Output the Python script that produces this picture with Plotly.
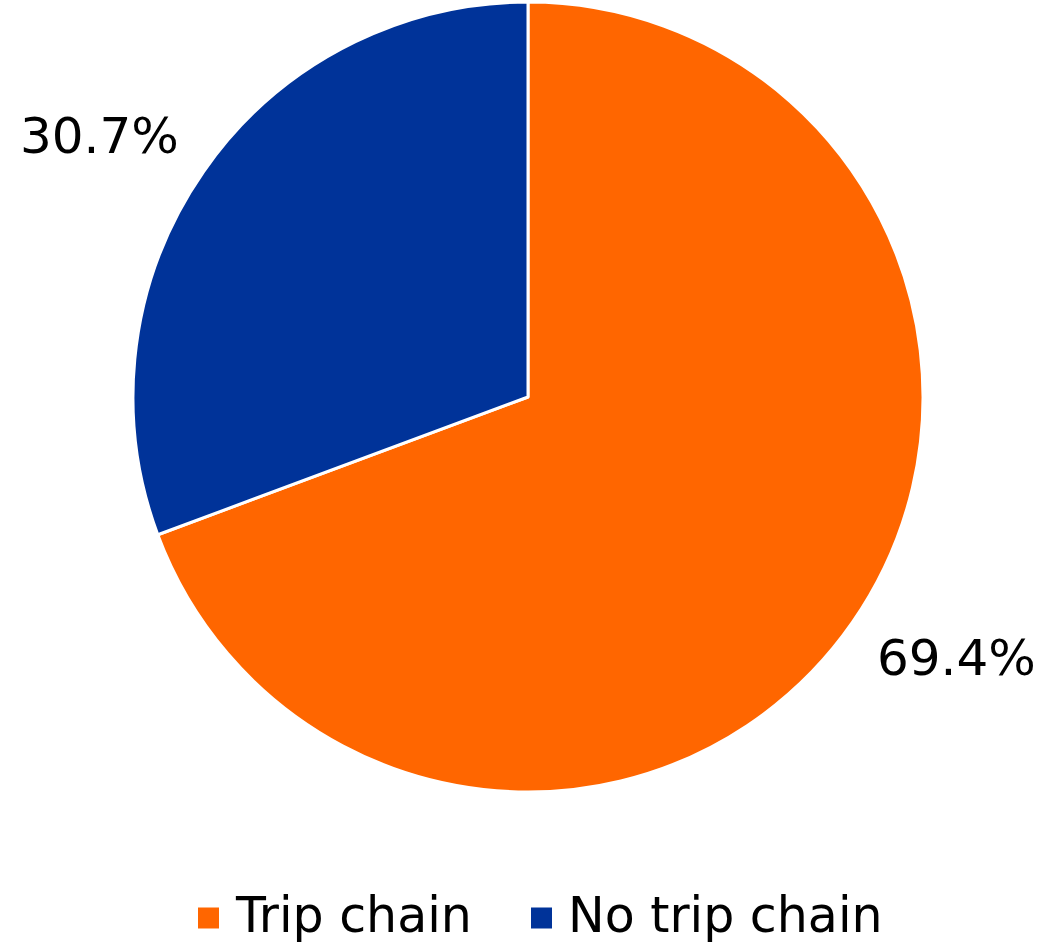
import math
import plotly.graph_objects as go

# Share of trips
categories = ["Trip chain", "No trip chain"]
shares = [69.4, 30.7]
colors = ["#FF6600", "#003399"]

W, H = 1045, 944
M_L, M_R, M_T, M_B = 11, 0, 2, 152
area_w = W - M_L - M_R
area_h = H - M_T - M_B


def to_paper(px, py):
    return (px - M_L) / area_w, 1 - (py - M_T) / area_h


fig = go.Figure(
    go.Pie(
        labels=categories,
        values=shares,
        sort=False,
        direction="clockwise",
        rotation=0,
        marker=dict(colors=colors, line=dict(color="white", width=3)),
        textinfo="none",
        hoverinfo="label+value",
        showlegend=False,
        domain=dict(x=[0, 1], y=[0, 1]),
    )
)

# Percentage labels placed outside each slice near its mid-angle
cx_px = M_L + area_w / 2
cy_px = M_T + area_h / 2
radius = 392
total = sum(shares)
start = 0.0
annotations = []
for name, v in zip(categories, shares):
    mid = start + v / total * 180.0 - 3.5
    start += v / total * 360.0
    ang = math.radians(mid)
    dist = radius * 1.28
    px = cx_px + dist * math.sin(ang)
    py = cy_px - dist * math.cos(ang)
    x, y = to_paper(px, py)
    annotations.append(
        dict(
            x=x, y=y, xref="paper", yref="paper",
            text=f"{v:.1f}%",
            showarrow=False,
            xanchor="center", yanchor="middle",
            font=dict(size=50, color="black", family="DejaVu Sans"),
        )
    )

# Legend drawn as coloured squares with category names beside them
legend_y = 918
sq = 21
item_x = [198, 531]
shapes = []
for x0, name, col in zip(item_x, categories, colors):
    xa, ya = to_paper(x0, legend_y - sq / 2)
    xb, yb = to_paper(x0 + sq, legend_y + sq / 2)
    shapes.append(
        dict(type="rect", xref="paper", yref="paper",
             x0=xa, x1=xb, y0=yb, y1=ya,
             fillcolor=col, line=dict(width=0))
    )
    tx, ty = to_paper(x0 + 35, legend_y - 3)
    annotations.append(
        dict(
            x=tx, y=ty, xref="paper", yref="paper",
            text=name, showarrow=False,
            xanchor="left", yanchor="middle",
            font=dict(size=49, color="black", family="DejaVu Sans"),
        )
    )

fig.update_layout(
    width=W,
    height=H,
    margin=dict(l=M_L, r=M_R, t=M_T, b=M_B),
    paper_bgcolor="white",
    plot_bgcolor="white",
    font=dict(family="DejaVu Sans", size=49, color="black"),
    annotations=annotations,
    shapes=shapes,
    showlegend=False,
)

fig.write_html("out.html")
